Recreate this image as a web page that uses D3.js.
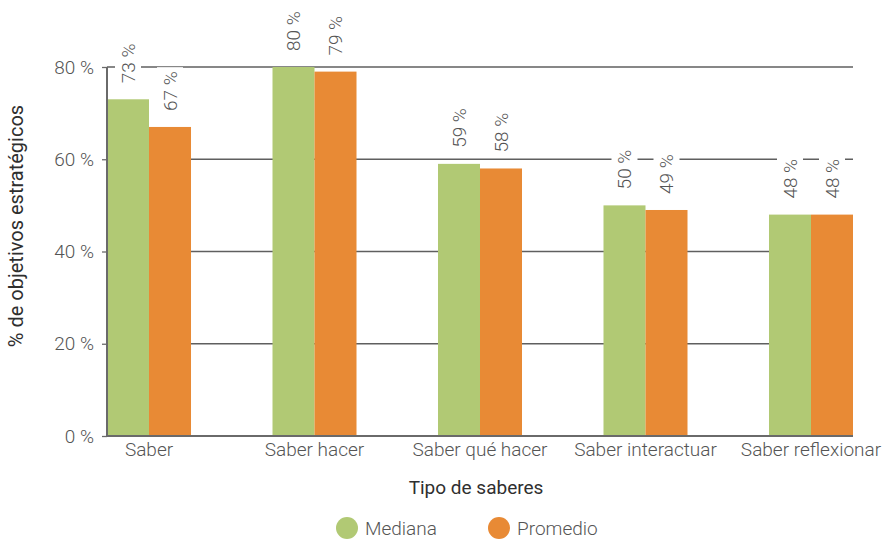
<!DOCTYPE html>
<html>
<head>
<meta charset="utf-8">
<script src="https://cdn.jsdelivr.net/npm/d3@7"></script>
<style>
  html, body { margin: 0; padding: 0; background: #fff; }
  svg { display: block; }
  text { font-family: Roboto, "Noto Sans", sans-serif; }
</style>
</head>
<body>
<svg id="chart" width="889" height="542"></svg>
<script>
// Share of strategic objectives by type of knowledge
const categories = ["Saber", "Saber hacer", "Saber qué hacer", "Saber interactuar", "Saber reflexionar"];
const seriesNames = ["Mediana", "Promedio"];
const mediana = [73, 80, 59, 50, 48];
const promedio = [67, 79, 58, 49, 48];
const yTicks = [0, 20, 40, 60, 80];
const colors = ["#b1c974", "#e88a35"];

const svg = d3.select("#chart");
const margin = { left: 107, right: 36, top: 67, bottom: 106 };
const W = 889, H = 542;

const x = d3.scaleBand()
  .domain(categories)
  .range([margin.left, W - margin.right])
  .paddingInner(0.4924)
  .paddingOuter(0);

const xs = d3.scaleBand()
  .domain(seriesNames)
  .range([0, x.bandwidth()]);

const y = d3.scaleLinear()
  .domain([0, 80])
  .range([H - margin.bottom, margin.top]);

const values = [mediana, promedio];
const fmt = v => v + "\u00a0%";

// gridlines
svg.append("g")
  .selectAll("line")
  .data(yTicks.filter(t => t > 0))
  .join("line")
  .attr("x1", margin.left)
  .attr("x2", W - margin.right)
  .attr("y1", d => y(d))
  .attr("y2", d => y(d))
  .attr("stroke", "#5f5f5f")
  .attr("stroke-width", 1.3);

// bars
const groups = svg.append("g")
  .selectAll("g")
  .data(categories)
  .join("g")
  .attr("transform", d => `translate(${x(d)},0)`);

groups.selectAll("rect")
  .data((d, i) => seriesNames.map((s, k) => ({ s, v: values[k][i], k })))
  .join("rect")
  .attr("x", d => xs(d.s))
  .attr("width", xs.bandwidth())
  .attr("y", d => y(d.v))
  .attr("height", d => y(0) - y(d.v))
  .attr("fill", d => colors[d.k]);

// value labels (rotated, with white backing over the gridlines)
const labelFont = 19;
const labelGap = 16;
groups.each(function(cat, i) {
  const g = d3.select(this);
  seriesNames.forEach((s, k) => {
    const v = values[k][i];
    const cx = xs(s) + xs.bandwidth() / 2;
    const by = y(v) - labelGap;
    const lg = g.append("g").attr("transform", `translate(${cx},${by}) rotate(-90)`);
    const t = lg.append("text")
      .attr("x", 0)
      .attr("y", 0)
      .attr("dy", "0.36em")
      .attr("font-size", labelFont)
      .attr("font-weight", 300)
      .attr("fill", "#555")
      .text(fmt(v));
    const len = t.node().getComputedTextLength();
    lg.insert("rect", "text")
      .attr("x", -4)
      .attr("y", -13)
      .attr("width", len + 8)
      .attr("height", 26)
      .attr("fill", "#fff");
  });
});

// y axis
const yAxis = d3.axisLeft(y)
  .tickValues(yTicks)
  .tickSize(5)
  .tickPadding(8)
  .tickFormat(fmt);
const ya = svg.append("g")
  .attr("transform", `translate(${margin.left},0)`)
  .call(yAxis);
ya.select(".domain").attr("stroke", "#6a6a6a").attr("stroke-width", 2)
  .attr("d", `M0,${y(0)}V${y(80)}`);
ya.selectAll(".tick line").attr("stroke", "#6a6a6a").attr("stroke-width", 1.3);
ya.selectAll(".tick text")
  .attr("font-size", 19)
  .attr("font-weight", 300)
  .attr("font-family", "Roboto, sans-serif")
  .attr("fill", "#555");

// x axis
const xAxis = d3.axisBottom(x).tickSize(0).tickPadding(7);
const xa = svg.append("g")
  .attr("transform", `translate(0,${y(0)})`)
  .call(xAxis);
xa.select(".domain").attr("stroke", "#6a6a6a").attr("stroke-width", 2)
  .attr("d", `M${margin.left - 1},0H${W - margin.right}`);
xa.selectAll(".tick text")
  .attr("font-size", 19)
  .attr("font-weight", 300)
  .attr("font-family", "Roboto, sans-serif")
  .attr("fill", "#555");

// axis titles
svg.append("text")
  .attr("transform", `translate(23,226) rotate(-90)`)
  .attr("text-anchor", "middle")
  .attr("font-size", 20)
  .attr("font-weight", 400)
  .attr("fill", "#2f2f2f")
  .text("% de objetivos estratégicos");

svg.append("text")
  .attr("x", 476)
  .attr("y", 494)
  .attr("text-anchor", "middle")
  .attr("font-size", 19)
  .attr("font-weight", 400)
  .attr("fill", "#2f2f2f")
  .text("Tipo de saberes");

// legend
const legendX = [347, 499];
const legend = svg.append("g")
  .selectAll("g")
  .data(seriesNames)
  .join("g")
  .attr("transform", (d, i) => `translate(${legendX[i]},528)`);
legend.append("circle").attr("r", 11).attr("fill", (d, i) => colors[i]);
legend.append("text")
  .attr("x", 18)
  .attr("dy", "0.35em")
  .attr("font-size", 19)
  .attr("font-weight", 300)
  .attr("fill", "#555")
  .text(d => d);
</script>
</body>
</html>
